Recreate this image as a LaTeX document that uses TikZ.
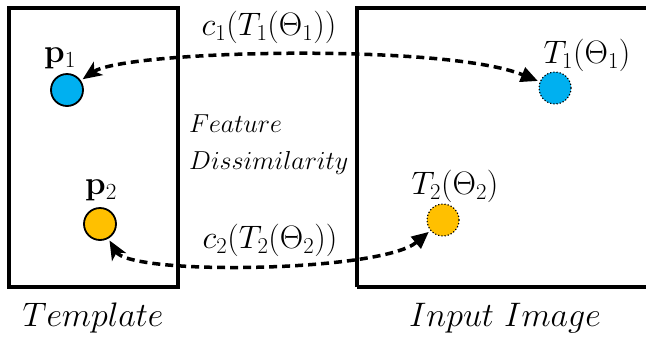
\RequirePackage{fix-cm}
\documentclass[tikz,border=0pt]{standalone}
\usetikzlibrary{arrows.meta}
\definecolor{cblue}{HTML}{00B0F0}
\definecolor{corange}{HTML}{FFC000}
\tikzset{
  frame/.style={line width=3.5pt, line join=miter},
  pt/.style={circle, draw=black, line width=1.8pt, minimum size=32pt, inner sep=0pt, outer sep=3pt},
  tpt/.style={circle, draw=black, dotted, line width=1.2pt, minimum size=32pt, inner sep=0pt, outer sep=2.5pt},
  conn/.style={line width=3.5pt, dash pattern=on 8pt off 5pt, {Stealth[length=19pt,width=16pt,inset=5pt]}-{Triangle[length=17pt,width=15pt]}},
  lbl/.style={inner sep=0pt, font=\fontsize{32.5}{38}\selectfont},
  blbl/.style={inner sep=0pt, font=\fontsize{33}{38}\selectfont},
  smalllbl/.style={inner sep=0pt, anchor=west, font=\fontsize{26}{30}\selectfont},
  captionlbl/.style={inner sep=0pt, font=\fontsize{34}{40}\selectfont}
}
\begin{document}
\begin{tikzpicture}[x=1pt,y=-1pt]
\useasboundingbox (0,0) rectangle (646,338);
\draw[frame] (9,8) rectangle (178,287);
\draw[frame] (357,287) -- (357,8) -- (660,8);
\draw[frame] (357,287) -- (660,287);
\node[pt, fill=cblue] (p1) at (67,90) {};
\node[pt, fill=corange] (p2) at (100,224) {};
\node[tpt, fill=cblue] (t1) at (555,88) {};
\node[tpt, fill=corange] (t2) at (443,220) {};
\node[blbl] (lp1) at (60,58) {$\mathbf{p}_1$};
\node[blbl] (lp2) at (101,190) {$\mathbf{p}_2$};
\node[lbl] (lt1) at (587,55) {$T_1(\Theta_1)$};
\node[lbl] (lt2) at (455,186) {$T_2(\Theta_2)$};
\node[lbl] (lc1) at (269,27) {$c_1(T_1(\Theta_1))$};
\node[lbl] (lc2) at (270,240) {$c_2(T_2(\Theta_2))$};
\node[smalllbl] (f1) at (189,124) {$Feature$};
\node[smalllbl] (f2) at (189,163) {$Dissimilarity$};
\node[captionlbl] (tmp) at (93,318) {$Template$};
\node[captionlbl] (inp) at (505,318) {$Input\ Image$};
\draw[conn] (p1) .. controls +(58,-40) and +(-110,-45) .. (t1);
\draw[conn] (p2) .. controls +(30,52) and +(-62,52) .. (t2);
\end{tikzpicture}
\end{document}
